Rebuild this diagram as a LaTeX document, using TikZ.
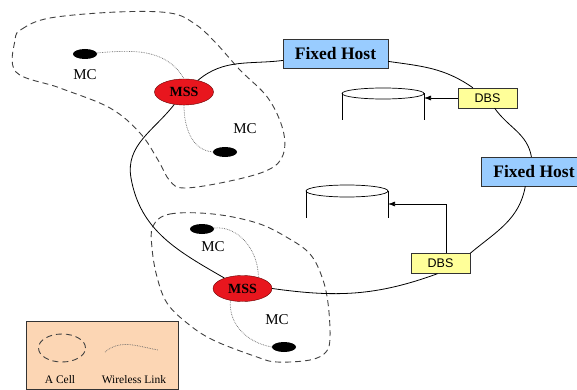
\documentclass[tikz,border=0pt]{standalone}
\usepackage{fontspec}
\setmainfont{Liberation Serif}
\newfontfamily\labelfont{Liberation Serif}
\newfontfamily\dbsfont{Liberation Sans}
\usetikzlibrary{shapes.geometric, arrows.meta}

\definecolor{hostblue}{RGB}{153,204,255}
\definecolor{dbsyellow}{RGB}{255,255,153}
\definecolor{mssred}{RGB}{232,22,30}
\definecolor{legendpeach}{RGB}{252,214,180}

\begin{document}
\begin{tikzpicture}[x=1pt, y=-1pt,
    host/.style={draw=black!80, fill=hostblue, minimum width=105, minimum height=29, inner sep=0pt,
        font=\labelfont\fontsize{17.5}{20}\selectfont\bfseries},
    dbs/.style={draw=black!80, fill=dbsyellow, minimum width=59, minimum height=20, inner sep=0pt,
        font=\dbsfont\fontsize{12.5}{14}\selectfont},
    mss/.style={ellipse, draw=black!60!red, fill=mssred, minimum width=59, minimum height=26, inner sep=0pt,
        font=\labelfont\fontsize{14}{16}\selectfont\bfseries},
    mc/.style={ellipse, fill=black, minimum width=24, minimum height=10, inner sep=0pt},
    mclabel/.style={inner sep=0pt, font=\labelfont\fontsize{15}{17}\selectfont},
    keylabel/.style={inner sep=0pt, font=\labelfont\fontsize{11.5}{13}\selectfont},
    ring/.style={draw, line width=0.8pt},
    wireless/.style={draw=black!60, densely dotted, line width=0.7pt},
    cell/.style={draw=black!75, line width=0.9pt, dash pattern=on 6pt off 4pt},
    link/.style={-{Latex[length=7pt, width=5pt]}, line width=0.7pt}
 ]
\useasboundingbox (0,0) rectangle (577,390);

% cells
\draw[cell] plot[smooth cycle, tension=0.6] coordinates {
    (15,40) (22,29) (50,18) (117,12) (170,13) (195,24) (215,42) (240,70)
    (268,98) (283,130) (283,155) (268,170) (230,181) (185,188) (170,181)
    (158,160) (140,133) (110,108) (60,88) (16,72)};
\draw[cell] plot[smooth cycle, tension=0.6] coordinates {
    (153,226) (170,214) (213,214) (257,223) (288,238) (310,254) (322,277)
    (328,303) (330,337) (326,352) (310,360) (277,362) (257,357) (213,340)
    (187,323) (167,303) (157,277) (152,248)};

% hosts and stations
\node[host] (FH1) at (335.5,54) {Fixed Host};
\node[host] (FH2) at (534,171.5) {Fixed Host};
\node[dbs] (DBS1) at (487.5,98) {DBS};
\node[dbs] (DBS2) at (440.5,263.5) {DBS};
\node[mss] (MSS1) at (184,92) {MSS};
\node[mss] (MSS2) at (242.5,288.5) {MSS};

% mobile clients
\node[mc] (MC1a) at (85,54) {};
\node[mc] (MC1b) at (225,152) {};
\node[mc] (MC2a) at (202,229) {};
\node[mc] (MC2b) at (284,347) {};
\node[mclabel] (lblMC1a) at (85,75) {MC};
\node[mclabel] (lblMC1b) at (245,129) {MC};
\node[mclabel] (lblMC2a) at (213,247) {MC};
\node[mclabel] (lblMC2b) at (277,320) {MC};

% databases
\draw[line width=0.7pt] (383,93.5) ellipse [x radius=41, y radius=5.5];
\draw[line width=0.7pt] (342,93.5) -- (342,120) (424,93.5) -- (424,120);
\coordinate (db1) at (424,98);
\draw[line width=0.7pt] (347,191) ellipse [x radius=41, y radius=6];
\draw[line width=0.7pt] (306,191) -- (306,218) (388,191) -- (388,218);
\coordinate (db2) at (388,204);

\draw[link] (DBS1.west) -- (db1);
\draw[link] ([xshift=6pt]DBS2.north) |- (db2);

% fixed network ring
\coordinate (ringW) at (131,178);
\path (FH2.south west) ++(44,0) coordinate (fh2s);
\draw[ring] (MSS1) to[out=40, in=187] (FH1);
\draw[ring] (FH1) to[out=-8, in=145] (DBS1);
\draw[ring] (DBS1) to[out=-55, in=100] (FH2);
\draw[ring] (fh2s) to[out=-100, in=40] (DBS2.north east);
\draw[ring] ([xshift=-3pt]DBS2.south) to[out=200, in=-8] (MSS2.east);
\draw[ring] (MSS2) to[out=150, in=-80] (ringW) to[out=100, in=232] (MSS1);

% wireless links
\draw[wireless] (MC1a) to[out=5, in=120] (MSS1.north);
\draw[wireless] (MSS1.south) to[out=-90, in=175] (MC1b.west);
\draw[wireless] (MC2a) to[out=5, in=90] (MSS2.35);
\draw[wireless] (MSS2.225) to[out=-95, in=170] (MC2b.west);

% legend
\node[draw=black!80, fill=legendpeach, minimum width=152, minimum height=68, inner sep=0pt] (legend) at (102,355) {};
\node[ellipse, cell, minimum width=47, minimum height=28, inner sep=0pt] (cellkey) at (62,348) {};
\coordinate (wlA) at (105,352);
\coordinate (wlB) at (158,350);
\draw[wireless] (wlA) to[out=40, in=170] (wlB);
\node[keylabel] (lblCell) at (60,380) {A Cell};
\node[keylabel] (lblLink) at (134,380) {Wireless Link};
\end{tikzpicture}
\end{document}
